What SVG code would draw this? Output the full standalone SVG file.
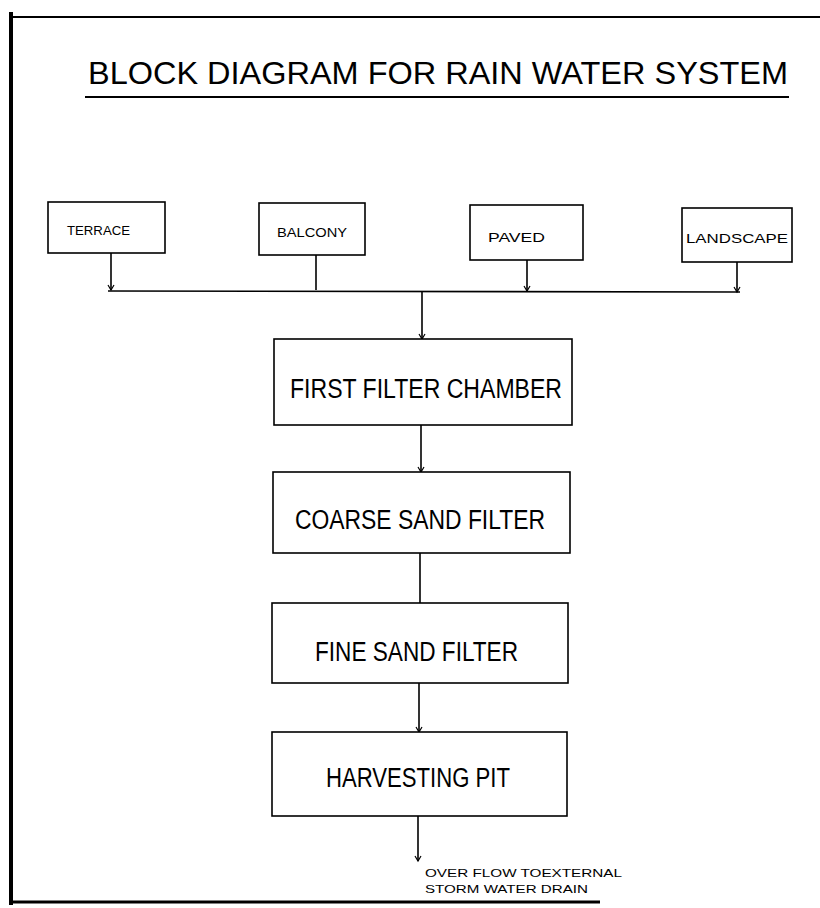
<svg xmlns="http://www.w3.org/2000/svg" width="820" height="908" viewBox="0 0 820 908">
<style>
.box{fill:#fff;stroke:#000;stroke-width:1.6}
.ln{fill:none;stroke:#000;stroke-width:1.6}
.t{font-family:"Liberation Sans",Arial,sans-serif;fill:#000}
.small{font-size:13px}
.mid{font-size:27px}
.note{font-size:11.5px}
</style>
<defs>
<marker id="v" markerUnits="userSpaceOnUse" markerWidth="10" markerHeight="10" refX="8" refY="5" orient="auto" viewBox="0 0 10 10">
<path d="M3,2 L8,5 L3,8" fill="none" stroke="#000" stroke-width="1.2"/>
</marker>
</defs>
<rect width="820" height="908" fill="#fff"/>
<g id="frame">
<line x1="11" y1="12" x2="11" y2="905" stroke="#000" stroke-width="4"/>
<line x1="9" y1="17" x2="820" y2="17" stroke="#000" stroke-width="2"/>
<line x1="9" y1="902" x2="600" y2="902" stroke="#000" stroke-width="3"/>
</g>
<g id="title">
<text class="t" x="88" y="84" font-size="32" textLength="700" lengthAdjust="spacingAndGlyphs">BLOCK DIAGRAM FOR RAIN WATER SYSTEM</text>
<line x1="85" y1="97" x2="789" y2="97" stroke="#000" stroke-width="2"/>
</g>
<g id="connectors">
<line class="ln" x1="111" y1="253" x2="111" y2="290" marker-end="url(#v)"/>
<line class="ln" x1="316" y1="255" x2="316" y2="290"/>
<line class="ln" x1="527" y1="260" x2="527" y2="291" marker-end="url(#v)"/>
<line class="ln" x1="737" y1="262" x2="737" y2="292" marker-end="url(#v)"/>
<line class="ln" x1="108" y1="291" x2="740" y2="292"/>
<line class="ln" x1="422" y1="291" x2="422" y2="339" marker-end="url(#v)"/>
<line class="ln" x1="421" y1="425" x2="421" y2="472" marker-end="url(#v)"/>
<line class="ln" x1="420" y1="553" x2="420" y2="603"/>
<line class="ln" x1="419" y1="683" x2="419" y2="732" marker-end="url(#v)"/>
<line class="ln" x1="418" y1="816" x2="418" y2="861" marker-end="url(#v)"/>
</g>
<g id="terrace">
<rect class="box" x="48" y="202" width="117" height="51"/>
<text class="t small" x="67" y="235" textLength="63" lengthAdjust="spacingAndGlyphs">TERRACE</text>
</g>
<g id="balcony">
<rect class="box" x="259" y="203" width="106" height="52"/>
<text class="t small" x="277" y="237" textLength="70" lengthAdjust="spacingAndGlyphs">BALCONY</text>
</g>
<g id="paved">
<rect class="box" x="470" y="205" width="113" height="55"/>
<text class="t small" x="488" y="242" textLength="57" lengthAdjust="spacingAndGlyphs">PAVED</text>
</g>
<g id="landscape">
<rect class="box" x="682" y="208" width="110" height="54"/>
<text class="t small" x="686" y="243" textLength="102" lengthAdjust="spacingAndGlyphs">LANDSCAPE</text>
</g>
<g id="first-filter-chamber">
<rect class="box" x="274" y="339" width="298" height="86"/>
<text class="t mid" x="290" y="398" textLength="272" lengthAdjust="spacingAndGlyphs">FIRST FILTER CHAMBER</text>
</g>
<g id="coarse-sand-filter">
<rect class="box" x="273" y="472" width="297" height="81"/>
<text class="t mid" x="295" y="529" textLength="250" lengthAdjust="spacingAndGlyphs">COARSE SAND FILTER</text>
</g>
<g id="fine-sand-filter">
<rect class="box" x="272" y="603" width="296" height="80"/>
<text class="t mid" x="315" y="661" textLength="203" lengthAdjust="spacingAndGlyphs">FINE SAND FILTER</text>
</g>
<g id="harvesting-pit">
<rect class="box" x="272" y="732" width="295" height="84"/>
<text class="t mid" x="326" y="787" textLength="184" lengthAdjust="spacingAndGlyphs">HARVESTING PIT</text>
</g>
<g id="overflow">
<text class="t note" x="425" y="877" textLength="197" lengthAdjust="spacingAndGlyphs">OVER FLOW TOEXTERNAL</text>
<text class="t note" x="425" y="893" textLength="163" lengthAdjust="spacingAndGlyphs">STORM WATER DRAIN</text>
</g>
</svg>
